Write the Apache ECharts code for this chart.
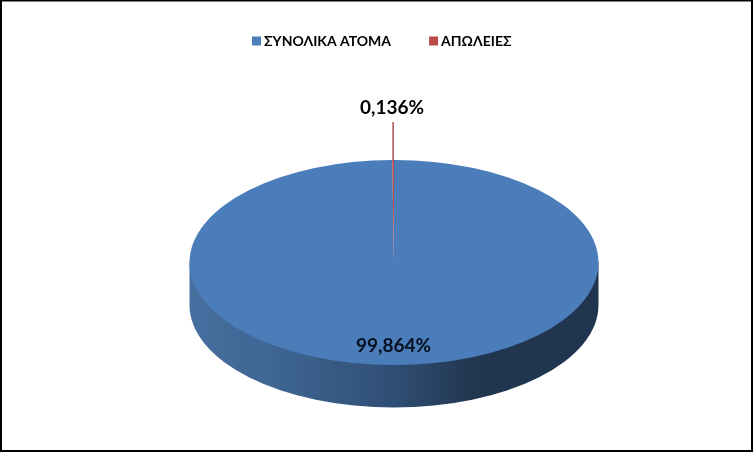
<!DOCTYPE html>
<html><head><meta charset="utf-8">
<style>html,body{margin:0;padding:0;background:#fff}#c{width:753px;height:452px}</style>
<script src="https://cdn.jsdelivr.net/npm/echarts@6/dist/echarts.min.js"></script>
</head><body><div id="c"></div>
<script>
const categories = ['ΣΥΝΟΛΙΚΑ ΑΤΟΜΑ', 'ΑΠΩΛΕΙΕΣ'];
const values = [99.864, 0.136];
const colors = ['#4b7dba', '#b84a47'];

const CX = 394, CY = 262.5, RX = 204.5, RY = 102.5, DEPTH = 43;
const FONT = 'Lato, "Open Sans", "Noto Sans", sans-serif';
const total = values.reduce((a, b) => a + b, 0);
const fmt = v => v.toFixed(3).replace('.', ',') + '%';

function angles(idx) {
  // Slices run clockwise from 12 o'clock, in data order
  let before = 0;
  for (let i = 0; i < idx; i++) before += values[i];
  const s = -Math.PI / 2 + before / total * Math.PI * 2;
  return [s, s + values[idx] / total * Math.PI * 2];
}

function side() {
  const x0 = CX - RX, x1 = CX + RX;
  return {
    type: 'path',
    shape: {
      pathData: `M${x0} ${CY}L${x0} ${CY + DEPTH}A${RX} ${RY} 0 0 0 ${x1} ${CY + DEPTH}L${x1} ${CY}Z`,
      x: x0, y: CY - 1, width: RX * 2, height: RY + DEPTH + 1
    },
    style: {
      fill: new echarts.graphic.LinearGradient(0, 0, 1, 0, [
        { offset: 0, color: '#46709f' },
        { offset: 0.2, color: '#3f6694' },
        { offset: 0.5, color: '#2f4e74' },
        { offset: 0.7, color: '#21364f' },
        { offset: 1, color: '#20344f' }
      ])
    }
  };
}

function renderSlice(idx) {
  return function () {
    const [a0, a1] = angles(idx);
    const children = [];
    if (idx === 0) children.push(side());
    children.push({
      type: 'sector',
      x: CX, y: CY, scaleY: RY / RX,
      shape: { cx: 0, cy: 0, r: RX, r0: 0, startAngle: a0, endAngle: a1, clockwise: true },
      style: { fill: colors[idx] }
    });
    if (idx === 0) {
      children.push({
        type: 'text', x: 393.5, y: 346,
        style: { text: fmt(values[idx]), font: 'bold 19px ' + FONT, fill: '#06101f',
                 align: 'center', verticalAlign: 'middle' }
      });
    } else {
      const mid = (a0 + a1) / 2;
      const topX = CX + Math.cos(mid) * RX, topY = CY + Math.sin(mid) * RY;
      children.push({
        type: 'line',
        shape: { x1: topX, y1: topY, x2: topX, y2: 122 },
        style: { stroke: '#a0423f', lineWidth: 1.4 }
      });
      children.push({
        type: 'text', x: 392, y: 107.5,
        style: { text: fmt(values[idx]), font: 'bold 19px ' + FONT, fill: '#000',
                 align: 'center', verticalAlign: 'middle' }
      });
    }
    return { type: 'group', children };
  };
}

const chart = echarts.init(document.getElementById('c'), null, { renderer: 'canvas' });
chart.setOption({
  animation: false,
  backgroundColor: '#ffffff',
  color: colors,
  legend: {
    left: 252, top: 34, padding: 0,
    itemWidth: 9, itemHeight: 9, itemGap: 38,
    icon: 'rect',
    textStyle: { fontFamily: FONT, fontWeight: 'bold', fontSize: 14, color: '#000', padding: [0, 0, 0, -2] },
    data: categories
  },
  graphic: [{
    type: 'rect', z: 100, silent: true,
    shape: { x: 1, y: 0.5, width: 751, height: 450.5 },
    style: { fill: 'none', stroke: '#000', lineWidth: 2 }
  }],
  series: categories.map((name, i) => ({
    type: 'custom', name,
    coordinateSystem: 'none',
    renderItem: renderSlice(i),
    data: [values[i]],
    itemStyle: { color: colors[i] },
    z: 2 + i
  }))
});
</script></body></html>
